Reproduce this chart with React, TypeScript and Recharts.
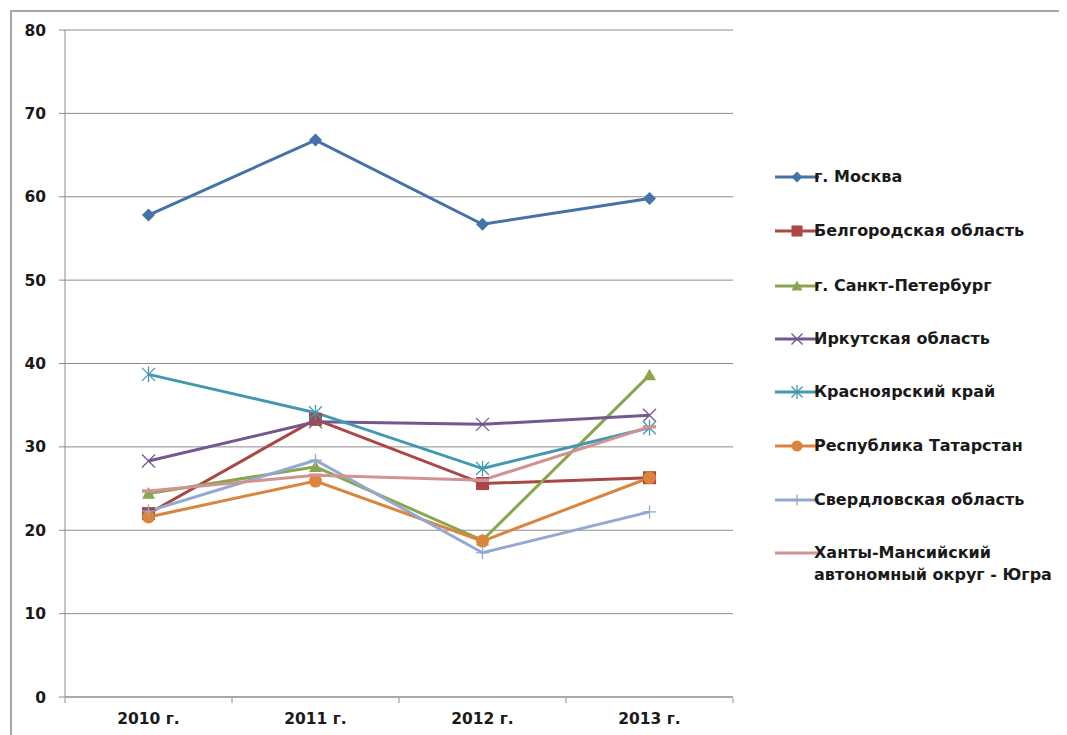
import React from "react";
import { LineChart, Line, XAxis, YAxis, CartesianGrid } from "recharts";

const years = ["2010 г.", "2011 г.", "2012 г.", "2013 г."];
const yTicks = [0, 10, 20, 30, 40, 50, 60, 70, 80];

const moscow = [57.8, 66.8, 56.7, 59.8];
const belgorod = [22.0, 33.3, 25.6, 26.3];
const spb = [24.4, 27.6, 18.8, 38.6];
const irkutsk = [28.3, 33.0, 32.7, 33.8];
const krasnoyarsk = [38.7, 34.1, 27.4, 32.3];
const tatarstan = [21.6, 25.9, 18.7, 26.3];
const sverdlovsk = [22.3, 28.4, 17.3, 22.2];
const khmao = [24.7, 26.6, 26.0, 32.4];

const series = [
  { key: "moscow", name: "г. Москва", values: moscow, color: "#4572A7", marker: "diamond" },
  { key: "belgorod", name: "Белгородская область", values: belgorod, color: "#AA4643", marker: "square" },
  { key: "spb", name: "г. Санкт-Петербург", values: spb, color: "#89A54E", marker: "triangle" },
  { key: "irkutsk", name: "Иркутская область", values: irkutsk, color: "#71588F", marker: "x" },
  { key: "krasnoyarsk", name: "Красноярский край", values: krasnoyarsk, color: "#4198AF", marker: "star" },
  { key: "tatarstan", name: "Республика Татарстан", values: tatarstan, color: "#DB843D", marker: "circle" },
  { key: "sverdlovsk", name: "Свердловская область", values: sverdlovsk, color: "#93A9CF", marker: "plus" },
  { key: "khmao", name: "Ханты-Мансийский\nавтономный округ - Югра", values: khmao, color: "#D19392", marker: "dash" },
];

const data = years.map((year, i) => {
  const row: Record<string, number | string> = { x: i + 0.5, year };
  series.forEach((s) => {
    row[s.key] = s.values[i];
  });
  return row;
});

const FONT = "'DejaVu Sans', sans-serif";
const tickStyle = { fontFamily: FONT, fontWeight: 700, fontSize: 15.5, fill: "#1a1a1a" };

function Marker({ cx, cy, shape, color, s = 1 }: any) {
  if (cx == null || cy == null) return null;
  const r = 6.5 * s;
  switch (shape) {
    case "diamond":
      return <polygon points={`${cx},${cy - r} ${cx + r},${cy} ${cx},${cy + r} ${cx - r},${cy}`} fill={color} />;
    case "square":
      return <rect x={cx - r} y={cy - r} width={2 * r} height={2 * r} fill={color} />;
    case "triangle":
      return <polygon points={`${cx},${cy - r} ${cx + r},${cy + r * 0.8} ${cx - r},${cy + r * 0.8}`} fill={color} />;
    case "circle":
      return <circle cx={cx} cy={cy} r={r} fill={color} />;
    case "x":
      return (
        <g stroke={color} strokeWidth={1.3}>
          <line x1={cx - r} y1={cy - r} x2={cx + r} y2={cy + r} />
          <line x1={cx - r} y1={cy + r} x2={cx + r} y2={cy - r} />
        </g>
      );
    case "star":
      return (
        <g stroke={color} strokeWidth={1.3}>
          <line x1={cx - r} y1={cy - r} x2={cx + r} y2={cy + r} />
          <line x1={cx - r} y1={cy + r} x2={cx + r} y2={cy - r} />
          <line x1={cx} y1={cy - r * 1.2} x2={cx} y2={cy + r * 1.2} />
        </g>
      );
    case "plus":
      return (
        <g stroke={color} strokeWidth={1.3}>
          <line x1={cx - r} y1={cy} x2={cx + r} y2={cy} />
          <line x1={cx} y1={cy - r} x2={cx} y2={cy + r} />
        </g>
      );
    case "dash":
      return <line x1={cx - r} y1={cy} x2={cx + r} y2={cy} stroke={color} strokeWidth={3.5} />;
    default:
      return null;
  }
}

function ChartLegend() {
  const tops = [177, 231, 286, 339, 392, 446, 500, 553];
  return (
    <div style={{ position: "absolute", left: 0, top: 0, width: 0, height: 0 }}>
      {series.map((s, i) => {
        const lines = s.name.split("\n");
        return (
          <div key={s.key} style={{ position: "absolute", left: 765, top: tops[i] - 8 - 11 }}>
            <svg width={48} height={22} style={{ position: "absolute", left: 0, top: 0 }}>
              <line x1={2} y1={11} x2={46} y2={11} stroke={s.color} strokeWidth={3} />
              {s.marker !== "dash" && <Marker cx={24} cy={11} shape={s.marker} color={s.color} s={0.85} />}
            </svg>
            <div
              style={{
                position: "absolute",
                left: 41,
                top: 0,
                whiteSpace: "nowrap",
                fontFamily: FONT,
                fontWeight: 700,
                fontSize: 16,
                lineHeight: "22px",
                color: "#1a1a1a",
              }}
            >
              {lines.map((l, j) => (
                <div key={j}>{l}</div>
              ))}
            </div>
          </div>
        );
      })}
    </div>
  );
}

export default function App() {
  return (
    <div style={{ position: "relative", width: 1059, height: 727, overflow: "hidden", background: "#fff" }}>
      <div
        style={{
          position: "absolute",
          left: 2,
          top: 2,
          width: 1057,
          height: 725,
          borderTop: "2px solid #a6a6a6",
          borderLeft: "2px solid #a6a6a6",
          boxSizing: "border-box",
        }}
      />
      <div style={{ position: "absolute", left: 0, top: 0 }}>
        <LineChart width={1059} height={727} data={data} margin={{ top: 22, right: 334, bottom: 8, left: 0 }}>
          <CartesianGrid horizontal vertical={false} stroke="#8c8c8c" strokeWidth={1} />
          <XAxis
            xAxisId="ticks"
            dataKey="x"
            type="number"
            domain={[0, years.length]}
            ticks={years.map((_, i) => i).concat(years.length)}
            tickFormatter={() => ""}
            axisLine={false}
            stroke="#8c8c8c"
            tickSize={5}
            height={29}
          />
          <XAxis
            xAxisId="labels"
            dataKey="x"
            type="number"
            domain={[0, years.length]}
            ticks={years.map((_, i) => i + 0.5)}
            tickFormatter={(v: number) => years[Math.floor(v)]}
            stroke="#8c8c8c"
            tickLine={false}
            tickSize={0}
            tickMargin={16}
            height={1}
            tick={tickStyle}
          />
          <YAxis
            domain={[0, 80]}
            ticks={yTicks}
            width={57}
            stroke="#8c8c8c"
            tickSize={6}
            tickMargin={13}
            tick={tickStyle}
          />
          {series.map((s) => (
            <Line
              key={s.key}
              xAxisId="ticks"
              dataKey={s.key}
              name={s.name}
              stroke={s.color}
              strokeWidth={3}
              isAnimationActive={false}
              dot={(p: any) => (
                <Marker key={`${s.key}-${p.index}`} cx={p.cx} cy={p.cy} shape={s.marker} color={s.color} />
              )}
              activeDot={false}
            />
          ))}
        </LineChart>
      </div>
      <ChartLegend />
    </div>
  );
}
